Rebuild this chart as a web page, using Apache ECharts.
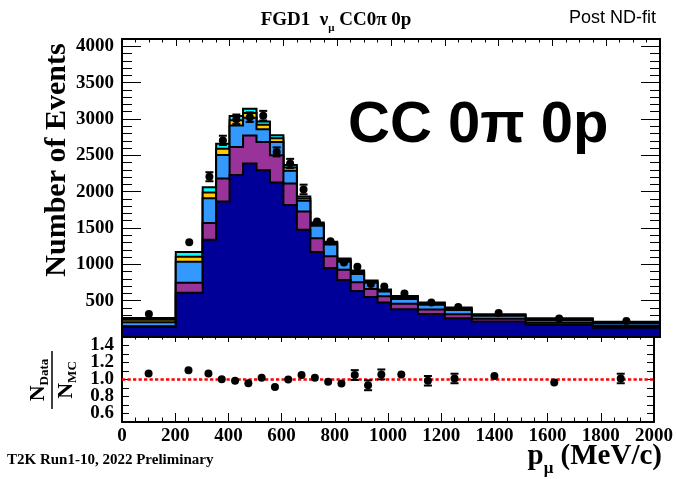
<!DOCTYPE html>
<html><head><meta charset="utf-8">
<script src="https://cdn.jsdelivr.net/npm/echarts@6.0.0/dist/echarts.min.js"></script>
<style>html,body{margin:0;padding:0;background:#fff}#c{width:676px;height:479px}</style>
</head><body><div id="c"></div>
<script>
// ---- data ----
const binEdges = [0,200,300,350,400,450,500,550,600,650,700,750,800,850,900,950,1000,1100,1200,1300,1500,1750,2000];
const ccqe   = [140,610,1338,1864,2228,2387,2295,2127,1817,1475,1170,951,785,633,551,475,383,315,258,213,170,128];
const twoP2h = [8,136,229,318,387,387,388,375,296,252,190,160,140,120,111,85,76,62,55,37,25,22];
const res    = [55,289,341,323,296,243,177,181,174,146,170,160,110,115,86,65,65,65,60,41,37,35];
const ncComp = [35,70,80,85,70,65,60,52,45,33,25,22,25,27,17,17,22,18,18,12,14,13];
const other  = [24,65,71,70,58,57,45,40,33,26,21,17,19,20,13,13,18,13,14,10,12,11];
const dataCounts = [318,1303,2205,2705,2995,3025,3045,2547,2387,2030,1590,1317,1025,965,729,694,598,473,414,330,255,220];
const dataErr    = [18,40,62,64,66,66,66,62,64,66,55,45,40,40,35,33,28,25,22,20,16,15];
const ratioValues = [1.072,1.11,1.072,1.003,0.985,0.955,1.02,0.913,1.0,1.052,1.02,0.973,0.953,1.052,0.932,1.06,1.06,0.985,1.012,1.04,0.964,1.012];
const ratioErr    = [0.02,0.02,0.02,0.02,0.02,0.02,0.02,0.02,0.02,0.02,0.025,0.025,0.03,0.058,0.058,0.058,0.03,0.056,0.056,0.03,0.035,0.056];
const mainYLabels = [500,1000,1500,2000,2500,3000,3500,4000];
const ratioYLabels = [0.6,0.8,1.0,1.2,1.4];

const components = [ccqe, twoP2h, res, ncComp, other];
const colors = ['#000099', '#993399', '#3399ff', '#ffcc00', '#00ffff'];

// cumulative table
const nb = ccqe.length;
const cum = [];
let run = new Array(nb).fill(0);
components.forEach(c => { run = run.map((v, i) => v + c[i]); cum.push(run.slice()); });

const centers = ccqe.map((_, i) => (binEdges[i] + binEdges[i + 1]) / 2);

const SERIF = 'Liberation Serif';
const SANS = 'Liberation Sans';
const R = 4; // marker radius

function histSeries(level) {
  const tops = cum[level];
  return {
    type: 'custom', xAxisIndex: 0, yAxisIndex: 0, data: [[0, 0]], silent: true,
    renderItem: function (params, api) {
      const pts = [api.coord([binEdges[0], 0])];
      for (let i = 0; i < nb; i++) {
        pts.push(api.coord([binEdges[i], tops[i]]));
        pts.push(api.coord([binEdges[i + 1], tops[i]]));
      }
      pts.push(api.coord([binEdges[nb], 0]));
      return { type: 'polygon', shape: { points: pts },
        style: { fill: colors[level], stroke: '#000', lineWidth: 2, lineJoin: 'miter' } };
    }
  };
}

function errRender(cap) {
  return function (params, api) {
    const x = api.value(0), y = api.value(1), e = api.value(2);
    const a = api.coord([x, y - e]), b = api.coord([x, y + e]), c = api.coord([x, y]);
    const st = { stroke: '#000', lineWidth: 2 };
    const ch = [];
    if (a[1] - c[1] > R) {
      ch.push({ type: 'line', shape: { x1: c[0], y1: c[1] + R, x2: a[0], y2: a[1] }, style: st });
      ch.push({ type: 'line', shape: { x1: a[0] - cap, y1: a[1], x2: a[0] + cap, y2: a[1] }, style: st });
      ch.push({ type: 'line', shape: { x1: c[0], y1: c[1] - R, x2: b[0], y2: b[1] }, style: st });
      ch.push({ type: 'line', shape: { x1: b[0] - cap, y1: b[1], x2: b[0] + cap, y2: b[1] }, style: st });
    }
    return { type: 'group', children: ch };
  };
}

const axLine = { show: true, onZero: false, lineStyle: { color: '#000', width: 2 } };
const labFont = { fontFamily: SERIF, fontWeight: 'bold', fontSize: 19, color: '#000' };

function xAx(grid, pos, labels, maj, min) {
  return { type: 'value', gridIndex: grid, position: pos, min: 0, max: 2000, interval: 200,
    axisLine: axLine,
    axisTick: { show: true, inside: true, length: maj, lineStyle: { color: '#000', width: 1 } },
    minorTick: { show: true, splitNumber: 4, length: min, lineStyle: { color: '#000', width: 1 } },
    splitLine: { show: false }, minorSplitLine: { show: false },
    axisLabel: labels ? Object.assign({ show: true, margin: 5, formatter: v => String(Math.round(v)) }, labFont) : { show: false } };
}
function yAx(grid, pos, min, max, interval, len, labelFn) {
  return { type: 'value', gridIndex: grid, position: pos, min: min, max: max, interval: interval,
    axisLine: axLine,
    axisTick: { show: true, inside: true, length: len, lineStyle: { color: '#000', width: 1 } },
    splitLine: { show: false },
    axisLabel: labelFn ? Object.assign({ show: true, margin: 8, formatter: labelFn }, labFont) : { show: false } };
}
const mainLab = v => mainYLabels.indexOf(Math.round(v)) >= 0 ? String(Math.round(v)) : '';
const ratioLab = v => { const k = Math.round(v * 10); return ratioYLabels.some(r => Math.round(r * 10) === k) ? (k / 10).toFixed(1) : ''; };

const dotStyle = { color: '#000', opacity: 1 };

const chart = echarts.init(document.getElementById('c'), null, { renderer: 'canvas' });
chart.setOption({
  animation: false,
  backgroundColor: '#fff',
  grid: [
    { left: 122, top: 39, width: 538, height: 298 },
    { left: 122, top: 337, width: 538, height: 85 }
  ],
  xAxis: [
    xAx(0, 'bottom', false, 7, 3.5),
    xAx(0, 'top', false, 7, 3.5),
    xAx(1, 'bottom', true, 9, 4.5),
    xAx(1, 'top', false, 5, 2.5)
  ],
  yAxis: [
    yAx(0, 'left', 0, 4100, 500, 19, mainLab),
    yAx(0, 'left', 0, 4100, 100, 10, null),
    yAx(0, 'right', 0, 4100, 500, 19, null),
    yAx(0, 'right', 0, 4100, 100, 10, null),
    yAx(1, 'left', 0.5, 1.5, 0.1, 7, ratioLab),
    yAx(1, 'right', 0.5, 1.5, 0.1, 7, null)
  ],
  series: [
    histSeries(4), histSeries(3), histSeries(2), histSeries(1), histSeries(0),
    { type: 'custom', xAxisIndex: 0, yAxisIndex: 0, renderItem: errRender(4),
      data: centers.map((x, i) => [x, dataCounts[i], dataErr[i]]), z: 5 },
    { type: 'scatter', xAxisIndex: 0, yAxisIndex: 0, symbol: 'circle', symbolSize: 2 * R,
      itemStyle: dotStyle, data: centers.map((x, i) => [x, dataCounts[i]]), z: 6 },
    { type: 'line', xAxisIndex: 2, yAxisIndex: 4, symbol: 'none', silent: true,
      lineStyle: { color: '#ff0000', width: 2.7, type: [3.3, 2.2] },
      data: [[binEdges[0], 1], [binEdges[nb], 1]], z: 2 },
    { type: 'custom', xAxisIndex: 2, yAxisIndex: 4, renderItem: errRender(4),
      data: centers.map((x, i) => [x, ratioValues[i], ratioErr[i]]), z: 5 },
    { type: 'scatter', xAxisIndex: 2, yAxisIndex: 4, symbol: 'circle', symbolSize: 2 * R,
      itemStyle: dotStyle, data: centers.map((x, i) => [x, ratioValues[i]]), z: 6 }
  ],
  graphic: [
    { type: 'text', x: 336, y: 6, style: { text: '{a|FGD1  ν}{b|μ}{a| CC0π 0p}', align: 'center', verticalAlign: 'top',
      rich: { a: { fontFamily: SERIF, fontWeight: 'bold', fontSize: 19, lineHeight: 28, fill: '#000' },
              b: { fontFamily: SERIF, fontWeight: 'bold', fontSize: 11, lineHeight: 11, verticalAlign: 'bottom', fill: '#000' } } } },
    { type: 'text', x: 656, y: 18, style: { text: 'Post ND-fit', fontFamily: SANS, fontSize: 18, fill: '#000', align: 'right', verticalAlign: 'middle' } },
    { type: 'text', x: 348, y: 126, style: { text: 'CC 0π 0p', fontFamily: SANS, fontWeight: 'bold', fontSize: 58, fill: '#000', align: 'left', verticalAlign: 'middle' } },
    { type: 'text', x: 57, y: 160, rotation: Math.PI / 2, style: { text: 'Number of Events', fontFamily: SERIF, fontWeight: 'bold', fontSize: 30, fill: '#000', align: 'center', verticalAlign: 'middle' } },
    { type: 'group', x: 52, y: 380, rotation: Math.PI / 2, children: [
      { type: 'text', x: 0, y: -1, style: { text: '{n|N}{s|Data}', align: 'center', verticalAlign: 'bottom',
        rich: { n: { fontFamily: SERIF, fontWeight: 'bold', fontSize: 22, lineHeight: 26, fill: '#000' },
                s: { fontFamily: SERIF, fontWeight: 'bold', fontSize: 13, lineHeight: 13, verticalAlign: 'bottom', fill: '#000' } } } },
      { type: 'line', shape: { x1: -29, y1: 0, x2: 29, y2: 0 }, style: { stroke: '#000', lineWidth: 1.5 } },
      { type: 'text', x: 0, y: 1, style: { text: '{n|N}{s|MC}', align: 'center', verticalAlign: 'top',
        rich: { n: { fontFamily: SERIF, fontWeight: 'bold', fontSize: 22, lineHeight: 26, fill: '#000' },
                s: { fontFamily: SERIF, fontWeight: 'bold', fontSize: 13, lineHeight: 13, verticalAlign: 'bottom', fill: '#000' } } } }
    ] },
    { type: 'text', x: 662, y: 437, style: { text: '{p|p}{s|μ}{p| (MeV/c)}', align: 'right', verticalAlign: 'top',
      rich: { p: { fontFamily: SERIF, fontWeight: 'bold', fontSize: 29, lineHeight: 40, fill: '#000' },
              s: { fontFamily: SERIF, fontWeight: 'bold', fontSize: 17, lineHeight: 17, verticalAlign: 'bottom', fill: '#000' } } } },
    { type: 'text', x: 7, y: 460, style: { text: 'T2K Run1-10, 2022 Preliminary', fontFamily: SERIF, fontWeight: 'bold', fontSize: 15, fill: '#000', align: 'left', verticalAlign: 'middle' } }
  ]
});
</script></body></html>
